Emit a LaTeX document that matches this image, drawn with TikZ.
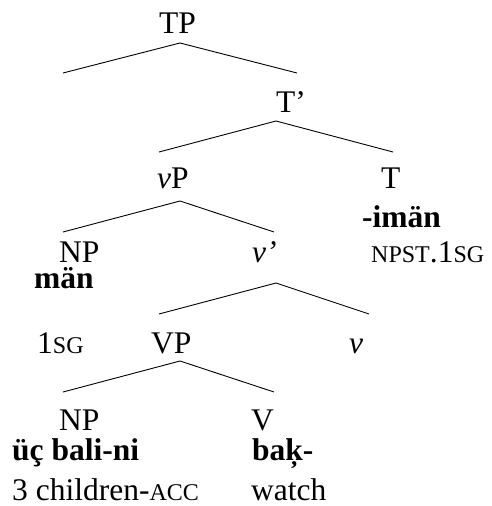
\documentclass[tikz,border=0pt]{standalone}
\usepackage{fontspec}
\setmainfont{Liberation Serif}
\newcommand{\glsc}[1]{{\fontsize{24}{27}\selectfont #1}}

\begin{document}
\begin{tikzpicture}[x=1pt,y=-1pt,
		lab/.style={anchor=base west, inner sep=0pt, font=\fontsize{31.5}{36}\selectfont},
		branch/.style={line width=0.9pt}]

		\useasboundingbox (0,0) rectangle (492,506);

		% labels
		\node[lab] (TP) at (159,33) {TP};
		\node[lab] (Tbar) at (276,112) {T’};
		\node[lab] (vP) at (157,188) {\textit{v}P};
		\node[lab] (T) at (381,188) {T};
		\node[lab] (Tform) at (362,227) {\textbf{-imän}};
		\node[lab] (NPsubj) at (59,262) {NP};
		\node[lab] (vbar) at (252,262) {\textit{v’}};
		\node[lab] (Tgloss) at (371,262) {\glsc{NPST}.1\glsc{SG}};
		\node[lab] (subjform) at (34,288) {\textbf{män}};
		\node[lab] (subjgloss) at (37,353) {1\glsc{SG}};
		\node[lab] (VP) at (151,353) {VP};
		\node[lab] (v) at (349,353) {\textit{v}};
		\node[lab] (NPobj) at (59,430) {NP};
		\node[lab] (V) at (251,430) {V};
		\node[lab] (objform) at (12,460) {\textbf{üç bali-ni}};
		\node[lab] (Vform) at (252,460) {\textbf{baķ-}};
		\node[lab] (objgloss) at (12,500) {3 children-\glsc{ACC}};
		\node[lab] (Vgloss) at (251,500) {watch};

		% branching points
		\coordinate (TP-a) at (180,43);
		\coordinate (TP-l) at (63,73);
		\coordinate (TP-r) at (297,73);
		\coordinate (Tbar-a) at (276,121);
		\coordinate (Tbar-l) at (159,152);
		\coordinate (Tbar-r) at (393,152);
		\coordinate (vP-a) at (180,201);
		\coordinate (vP-l) at (63,232);
		\coordinate (vP-r) at (274,232);
		\coordinate (vbar-a) at (276,283);
		\coordinate (vbar-l) at (159,314);
		\coordinate (vbar-r) at (369,314);
		\coordinate (VP-a) at (180,361);
		\coordinate (VP-l) at (63,392);
		\coordinate (VP-r) at (274,392);

		\draw[branch] (TP-l) -- (TP-a) -- (TP-r);
		\draw[branch] (Tbar-l) -- (Tbar-a) -- (Tbar-r);
		\draw[branch] (vP-l) -- (vP-a) -- (vP-r);
		\draw[branch] (vbar-l) -- (vbar-a) -- (vbar-r);
		\draw[branch] (VP-l) -- (VP-a) -- (VP-r);

	\end{tikzpicture}
\end{document}
